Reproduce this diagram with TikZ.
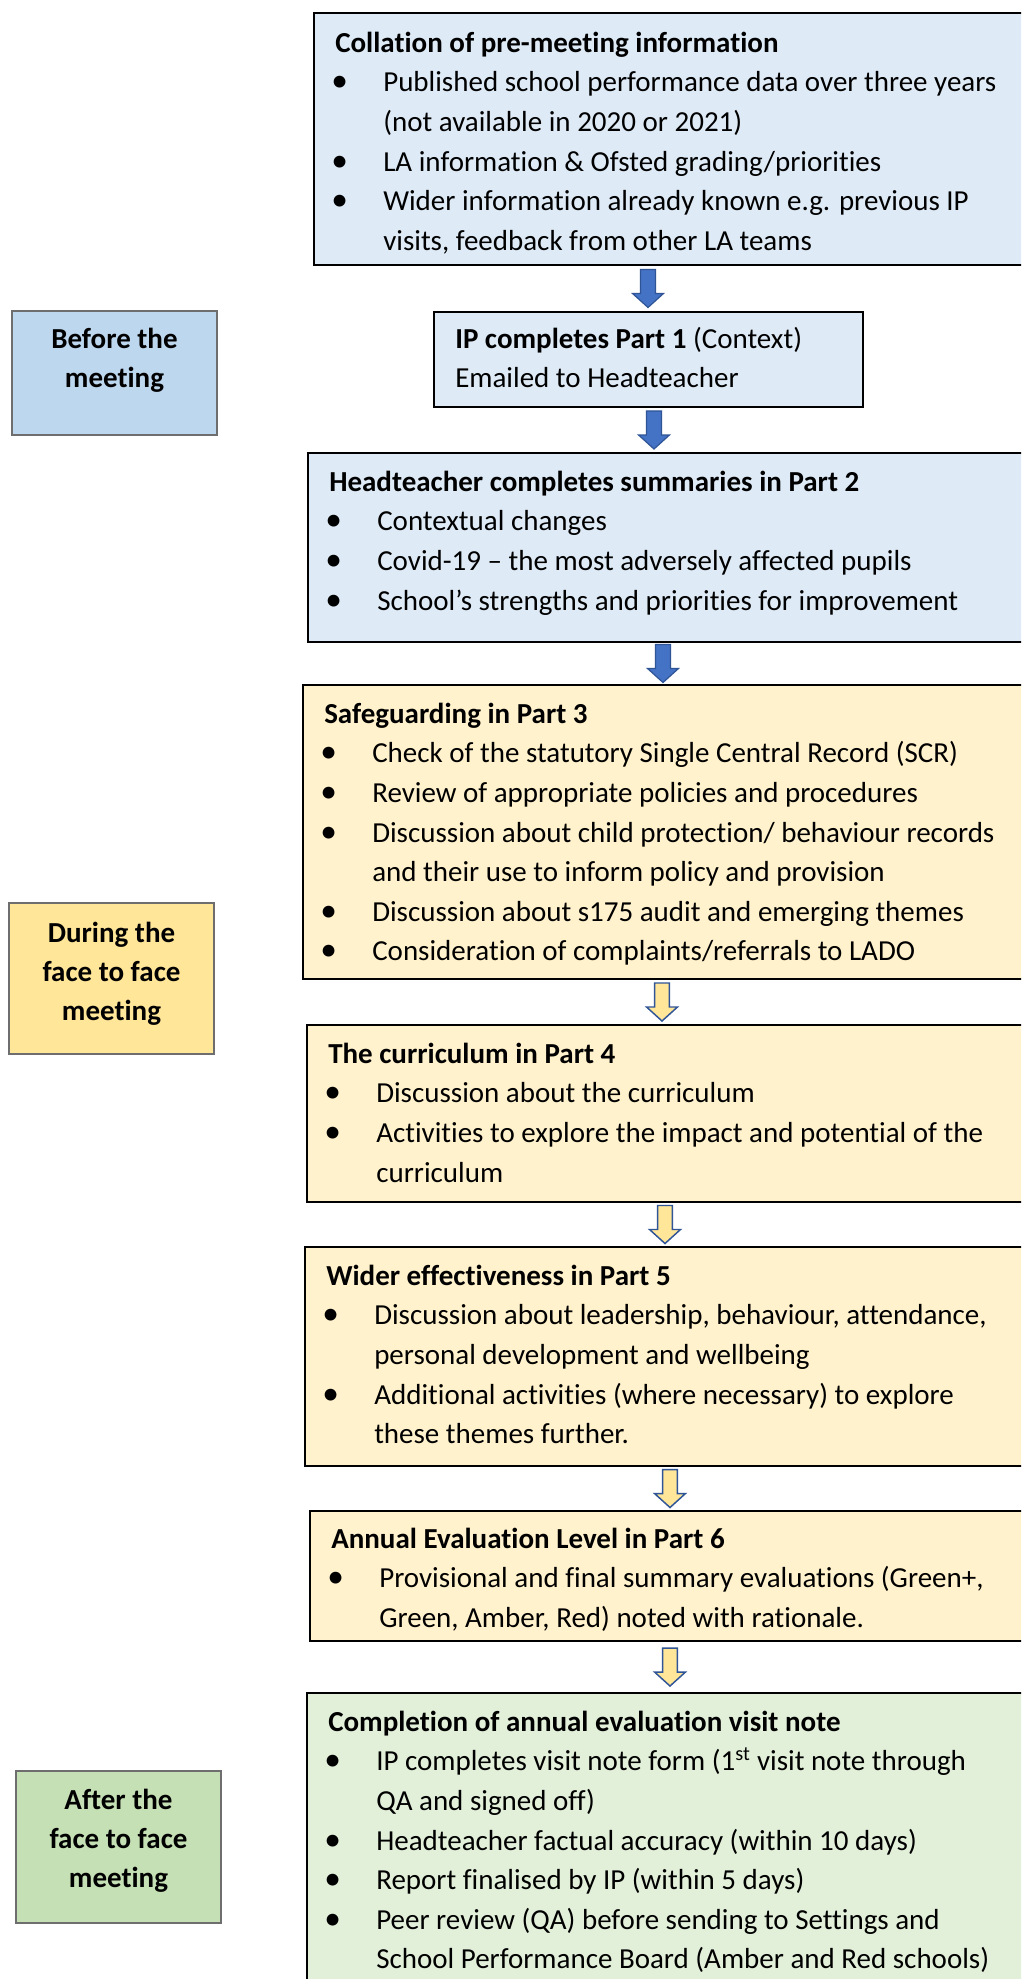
\documentclass[tikz,border=0pt]{standalone}
\usepackage{fontspec}
\setmainfont{Carlito}[Ligatures={TeX,NoCommon}]
\usetikzlibrary{fit,calc}
\definecolor{bluefill}{HTML}{DEEBF7}
\definecolor{yellowfill}{HTML}{FFF2CC}
\definecolor{greenfill}{HTML}{E2F0D9}
\definecolor{sideblue}{HTML}{BDD7EE}
\definecolor{sideyellow}{HTML}{FFE699}
\definecolor{sidegreen}{HTML}{C5E0B4}
\definecolor{sideborder}{HTML}{6E6E6E}
\definecolor{arrowblue}{HTML}{4472C4}
\definecolor{arrowedge}{HTML}{2F5597}
\definecolor{arrowyellow}{HTML}{FFE699}
\newcommand\bli{\hspace*{-3pt}\makebox[39pt][l]{\scalebox{1.15}{\textbullet}}}
\newcommand\cnt{\hspace*{36pt}}
\newcommand\firstline{\rule{0pt}{21pt}}
\newcommand\blockarr[4]{%
  \path[#4] let \p1=(#1.south), \p2=(#2.north), \n1={(\y1+\y2)/2} in
   ({#3*0.75pt-5.6pt},{\n1+14.25pt}) -- ({#3*0.75pt-5.6pt},{\n1-3.75pt})
   -- ({#3*0.75pt-11.6pt},{\n1-3.75pt}) -- ({#3*0.75pt},{\n1-14.25pt})
   -- ({#3*0.75pt+11.6pt},{\n1-3.75pt}) -- ({#3*0.75pt+5.6pt},{\n1-3.75pt})
   -- ({#3*0.75pt+5.6pt},{\n1+14.25pt}) -- cycle;}
\tikzset{
  mainbox/.style={rectangle, inner sep=0pt, draw=black, line width=1.5pt},
  bluebox/.style={mainbox, fill=bluefill},
  yellowbox/.style={mainbox, fill=yellowfill},
  greenbox/.style={mainbox, fill=greenfill},
  sidebox/.style={rectangle, inner sep=0pt, draw=sideborder, line width=1.5pt},
  txt/.style={anchor=north west, inner sep=0pt, align=left,
    font=\fontsize{21.75}{29.7}\selectfont},
  sidetxt/.style={anchor=north, inner sep=0pt, align=center,
    font=\fontsize{21.75}{29.3}\selectfont\bfseries},
  bluearrow/.style={fill=arrowblue, draw=arrowedge, line width=0.9pt, line join=miter},
  yellowarrow/.style={fill=arrowyellow, draw=arrowedge, line width=1.1pt, line join=miter},
}
\begin{document}
\begin{tikzpicture}[x=0.75pt, y=-0.75pt]
\useasboundingbox (0,0) rectangle (1021,1979);
\fill[white] (0,0) rectangle (1021,1979);
\clip (0,0) rectangle (1021,1979);

% main boxes
\node[bluebox, fit={(314,13) (1030,265)}] (b1) {};
\node[bluebox, fit={(434,312) (863,407)}] (b2) {};
\node[bluebox, fit={(308,453) (1030,642)}] (b3) {};
\node[yellowbox, fit={(303,685) (1030,979)}] (b4) {};
\node[yellowbox, fit={(307,1025) (1030,1202)}] (b5) {};
\node[yellowbox, fit={(305,1247) (1030,1466)}] (b6) {};
\node[yellowbox, fit={(310,1511) (1030,1641)}] (b7) {};
\node[greenbox, fit={(307,1693) (1030,1995)}] (b8) {};

% side boxes
\node[sidebox, fill=sideblue, fit={(12,311) (217,435)}] (s1) {};
\node[sidebox, fill=sideyellow, fit={(9,903) (214,1054)}] (s2) {};
\node[sidebox, fill=sidegreen, fit={(16,1771) (221,1923)}] (s3) {};

% texts
\node[txt] (t1) at (335,24) {\firstline\textbf{Collation of pre-meeting information}\\
\bli Published school performance data over three years\\
\cnt (not available in 2020 or 2021)\\
\bli LA information \& Ofsted grading/priorities\\
\bli Wider information already known e.g. previous IP\\
\cnt visits, feedback from other LA teams};

\node[txt] (t2) at (455,320) {\firstline\textbf{IP completes Part 1} (Context)\\
Emailed to Headteacher};

\node[txt] (t3) at (329,463) {\firstline\textbf{Headteacher completes summaries in Part 2}\\
\bli Contextual changes\\
\bli Covid-19 – the most adversely affected pupils\\
\bli School’s strengths and priorities for improvement};

\node[txt] (t4) at (324,695) {\firstline\textbf{Safeguarding in Part 3}\\
\bli Check of the statutory Single Central Record (SCR)\\
\bli Review of appropriate policies and procedures\\
\bli Discussion about child protection/ behaviour records\\
\cnt and their use to inform policy and provision\\
\bli Discussion about s175 audit and emerging themes\\
\bli Consideration of complaints/referrals to LADO};

\node[txt] (t5) at (328,1035) {\firstline\textbf{The curriculum in Part 4}\\
\bli Discussion about the curriculum\\
\bli Activities to explore the impact and potential of the\\
\cnt curriculum};

\node[txt] (t6) at (326,1257) {\firstline\textbf{Wider effectiveness in Part 5}\\
\bli Discussion about leadership, behaviour, attendance,\\
\cnt personal development and wellbeing\\
\bli Additional activities (where necessary) to explore\\
\cnt these themes further.};

\node[txt] (t7) at (331,1520) {\firstline\textbf{Annual Evaluation Level in Part 6}\\
\bli Provisional and final summary evaluations (Green+,\\
\cnt Green, Amber, Red) noted with rationale.};

\node[txt] (t8) at (328,1703) {\firstline\textbf{Completion of annual evaluation visit note}\\
\bli IP completes visit note form (1\textsuperscript{st} visit note through\\
\cnt QA and signed off)\\
\bli Headteacher factual accuracy (within 10 days)\\
\bli Report finalised by IP (within 5 days)\\
\bli Peer review (QA) before sending to Settings and\\
\cnt School Performance Board (Amber and Red schools)};

\node[sidetxt] (st1) at (114.5,320) {\firstline Before the\\meeting};
\node[sidetxt] (st2) at (111.5,914) {\firstline During the\\face to face\\meeting};
\node[sidetxt] (st3) at (118.5,1781) {\firstline After the\\face to face\\meeting};

% arrows
\blockarr{b1}{b2}{648}{bluearrow}
\blockarr{b2}{b3}{654}{bluearrow}
\blockarr{b3}{b4}{663}{bluearrow}
\blockarr{b4}{b5}{662}{yellowarrow}
\blockarr{b5}{b6}{665}{yellowarrow}
\blockarr{b6}{b7}{670}{yellowarrow}
\blockarr{b7}{b8}{670}{yellowarrow}
\end{tikzpicture}
\end{document}
